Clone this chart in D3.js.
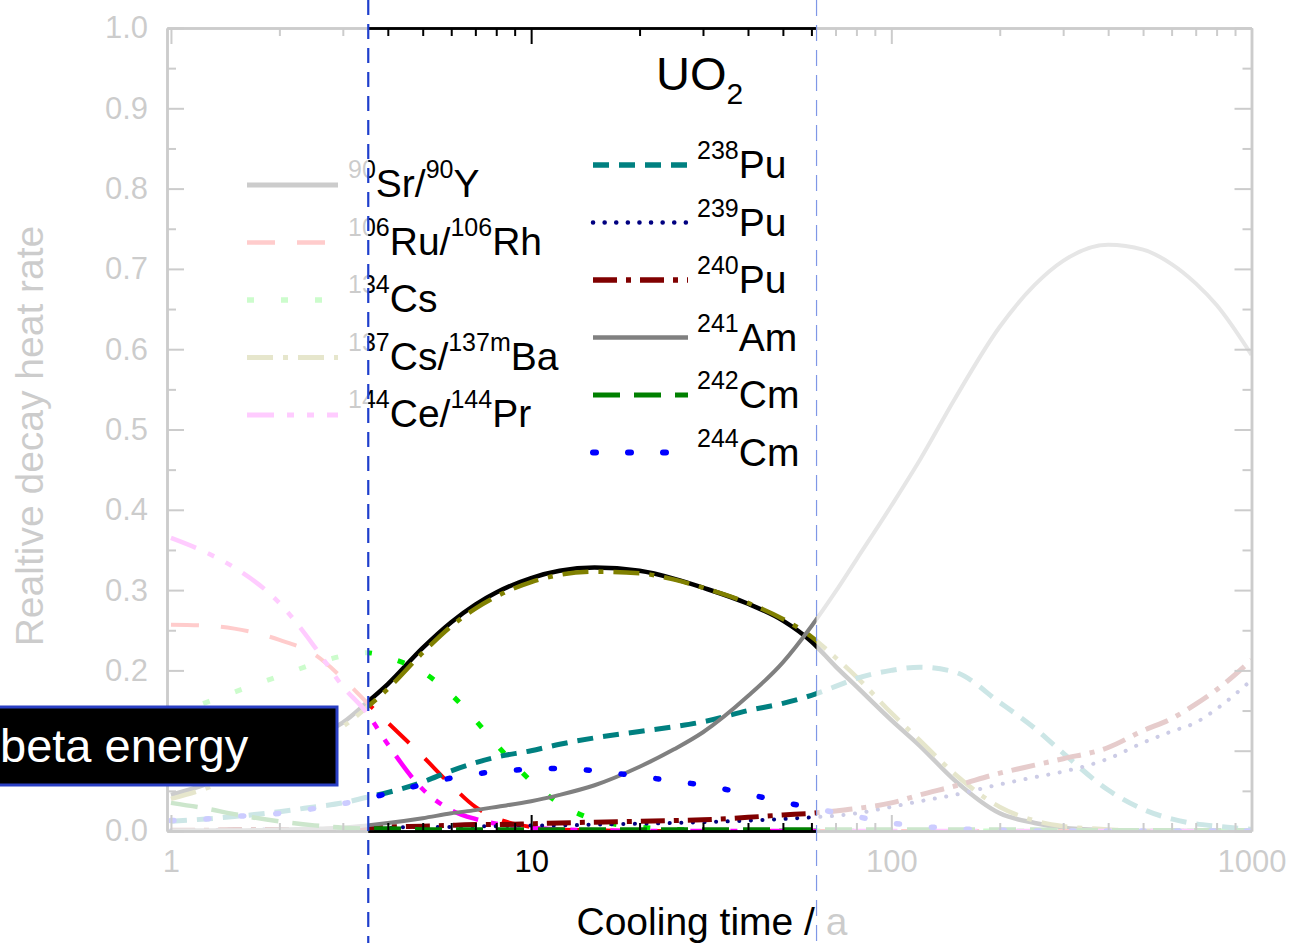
<!DOCTYPE html>
<html>
<head>
<meta charset="utf-8">
<script src="https://cdn.jsdelivr.net/npm/d3@7"></script>
<style>
  html, body { margin: 0; padding: 0; background: #fff; }
  svg { display: block; font-family: "Liberation Sans", Arial, Helvetica, sans-serif; }
</style>
</head>
<body>
<svg id="chart" width="1306" height="951"></svg>
<script>
// Cooling time grid (years) shared by all nuclide series
const coolingTime = [1, 1.25, 1.5, 2, 2.5, 3, 3.5, 4, 5, 6, 7, 8, 10, 12, 15, 20, 25, 30, 40, 50, 60, 70, 80, 100, 120, 150, 200, 250, 300, 400, 500, 600, 700, 800, 1000];

// Relative decay heat contribution of each nuclide (fraction of total)
const sr90   = [0.045, 0.058, 0.072, 0.100, 0.118, 0.135, 0.160, 0.183, 0.228, 0.260, 0.282, 0.297, 0.315, 0.324, 0.328, 0.324, 0.314, 0.303, 0.283, 0.262, 0.236, 0.205, 0.180, 0.138, 0.106, 0.063, 0.022, 0.010, 0.004, 0.001, 0, 0, 0, 0, 0];
const ru106  = [0.257, 0.256, 0.252, 0.238, 0.220, 0.190, 0.160, 0.135, 0.093, 0.057, 0.030, 0.016, 0.005, 0.002, 0.001, 0, 0, 0, 0, 0, 0, 0, 0, 0, 0, 0, 0, 0, 0, 0, 0, 0, 0, 0, 0];
const cs134  = [0.145, 0.160, 0.173, 0.193, 0.208, 0.218, 0.222, 0.216, 0.198, 0.170, 0.138, 0.108, 0.062, 0.034, 0.014, 0.005, 0.002, 0.001, 0, 0, 0, 0, 0, 0, 0, 0, 0, 0, 0, 0, 0, 0, 0, 0, 0];
const cs137  = [0.040, 0.053, 0.067, 0.095, 0.113, 0.130, 0.154, 0.177, 0.222, 0.255, 0.277, 0.292, 0.310, 0.319, 0.323, 0.321, 0.313, 0.303, 0.284, 0.264, 0.242, 0.216, 0.192, 0.147, 0.113, 0.071, 0.030, 0.013, 0.006, 0.002, 0, 0, 0, 0, 0];
const ce144  = [0.365, 0.347, 0.328, 0.284, 0.230, 0.180, 0.147, 0.108, 0.052, 0.026, 0.015, 0.009, 0.004, 0.002, 0.001, 0, 0, 0, 0, 0, 0, 0, 0, 0, 0, 0, 0, 0, 0, 0, 0, 0, 0, 0, 0];
const pu238  = [0.012, 0.015, 0.018, 0.024, 0.030, 0.035, 0.042, 0.048, 0.061, 0.075, 0.085, 0.092, 0.100, 0.108, 0.116, 0.124, 0.130, 0.136, 0.150, 0.159, 0.169, 0.180, 0.190, 0.200, 0.204, 0.198, 0.160, 0.128, 0.097, 0.051, 0.027, 0.015, 0.009, 0.006, 0.002];
const pu239  = [0.001, 0.001, 0.002, 0.002, 0.002, 0.003, 0.003, 0.004, 0.005, 0.005, 0.006, 0.006, 0.007, 0.007, 0.008, 0.009, 0.010, 0.011, 0.013, 0.015, 0.017, 0.019, 0.022, 0.030, 0.037, 0.045, 0.058, 0.067, 0.074, 0.090, 0.110, 0.124, 0.135, 0.152, 0.188];
const pu240  = [0.001, 0.001, 0.002, 0.002, 0.002, 0.003, 0.004, 0.005, 0.006, 0.007, 0.008, 0.008, 0.009, 0.010, 0.011, 0.012, 0.013, 0.014, 0.017, 0.020, 0.022, 0.025, 0.028, 0.035, 0.045, 0.056, 0.072, 0.082, 0.090, 0.104, 0.125, 0.140, 0.158, 0.176, 0.213];
const am241  = [0.001, 0.001, 0.001, 0.002, 0.003, 0.004, 0.007, 0.010, 0.016, 0.022, 0.026, 0.030, 0.037, 0.045, 0.057, 0.080, 0.102, 0.123, 0.168, 0.210, 0.255, 0.298, 0.338, 0.405, 0.462, 0.538, 0.628, 0.680, 0.710, 0.730, 0.724, 0.706, 0.682, 0.655, 0.593];
const cm242  = [0.035, 0.028, 0.021, 0.012, 0.007, 0.004, 0.003, 0.003, 0.002, 0.002, 0.002, 0.002, 0.002, 0.002, 0.002, 0.002, 0.002, 0.002, 0.002, 0.002, 0.002, 0.002, 0.002, 0.002, 0.002, 0.002, 0.002, 0.002, 0.001, 0.001, 0.001, 0.001, 0.001, 0.001, 0.001];
const cm244  = [0.013, 0.015, 0.018, 0.022, 0.028, 0.034, 0.040, 0.047, 0.058, 0.066, 0.071, 0.074, 0.077, 0.078, 0.075, 0.068, 0.062, 0.057, 0.046, 0.036, 0.029, 0.023, 0.018, 0.010, 0.006, 0.003, 0.001, 0, 0, 0, 0, 0, 0, 0, 0];

// Axis ticks
const xTickLabels = [1, 10, 100, 1000];
const yTickLabels = [0, 0.1, 0.2, 0.3, 0.4, 0.5, 0.6, 0.7, 0.8, 0.9, 1.0];

// Cooling-time window that stays in focus (years)
const focusWindow = [3.53, 62];

// ---------------------------------------------------------------------------
const W = 1306, H = 951;
const plot = { left: 167, right: 1251.5, top: 28, bottom: 831 };
const FONT = '"Liberation Sans", Arial, Helvetica, sans-serif';

const x = d3.scaleLog().domain([0.975, 1000]).range([plot.left, plot.right]);
const y = d3.scaleLinear().domain([0, 1]).range([plot.bottom, plot.top]);

const svg = d3.select('#chart');
const chart = svg.append('g');

// Series table: values plus drawing style and legend label parts ([text, isSuperscript])
const series = [
  { values: sr90,  color: '#000000', width: 4.5, dash: null,                 cap: 'butt',  col: 0, label: [['90', 1], ['Sr/', 0], ['90', 1], ['Y', 0]] },
  { values: ru106, color: '#ff0000', width: 4,   dash: '28,22',              cap: 'butt',  col: 0, label: [['106', 1], ['Ru/', 0], ['106', 1], ['Rh', 0]] },
  { values: cs134, color: '#00ee00', width: 5,   dash: '7,27',               cap: 'butt',  col: 0, label: [['134', 1], ['Cs', 0]] },
  { values: cs137, color: '#808000', width: 4.5, dash: '26,10,5,10',         cap: 'butt',  col: 0, label: [['137', 1], ['Cs/', 0], ['137m', 1], ['Ba', 0]] },
  { values: ce144, color: '#ff00ff', width: 4.5, dash: '27,13,7,13,7,13',    cap: 'butt',  col: 0, label: [['144', 1], ['Ce/', 0], ['144', 1], ['Pr', 0]] },
  { values: pu238, color: '#008080', width: 5,   dash: '16,10',              cap: 'butt',  col: 1, label: [['238', 1], ['Pu', 0]] },
  { values: pu239, color: '#000080', width: 4,   dash: '0.1,11.5',           cap: 'round', col: 1, label: [['239', 1], ['Pu', 0]] },
  { values: pu240, color: '#800000', width: 5,   dash: '24,9,5,9',           cap: 'butt',  col: 1, label: [['240', 1], ['Pu', 0]] },
  { values: am241, color: '#808080', width: 4,   dash: null,                 cap: 'butt',  col: 1, label: [['241', 1], ['Am', 0]] },
  { values: cm242, color: '#008000', width: 4.5, dash: '27,14',              cap: 'butt',  col: 1, label: [['242', 1], ['Cm', 0]] },
  { values: cm244, color: '#0000ff', width: 5.5, dash: '3,32',               cap: 'round', col: 1, label: [['244', 1], ['Cm', 0]] }
];

// Clip curves to the plotting frame
svg.append('defs').append('clipPath').attr('id', 'plot-clip')
  .append('rect')
  .attr('x', plot.left).attr('y', plot.top)
  .attr('width', plot.right - plot.left).attr('height', plot.bottom - plot.top);

const line = d3.line()
  .x(d => x(d.t))
  .y(d => y(d.v))
  .curve(d3.curveMonotoneX);

const curves = chart.append('g').attr('clip-path', 'url(#plot-clip)');
series.forEach(s => {
  const pts = coolingTime.map((t, i) => ({ t, v: s.values[i] }));
  curves.append('path')
    .datum(pts)
    .attr('d', line)
    .attr('fill', 'none')
    .attr('stroke', s.color)
    .attr('stroke-width', s.width)
    .attr('stroke-linecap', s.cap)
    .attr('stroke-linejoin', 'round')
    .attr('stroke-dasharray', s.dash);
});

// Axes with inward ticks on all four sides
const xMinor = [];
[1, 10, 100].forEach(d => { for (let k = 2; k <= 9; k++) xMinor.push(d * k); });
const yMinor = d3.range(0.05, 1, 0.1);

function styleAxis(g) {
  g.select('.domain').attr('stroke', '#000').attr('stroke-width', 2.5);
  g.selectAll('.tick line').attr('stroke', '#000').attr('stroke-width', 2);
  g.selectAll('.tick text').attr('fill', '#000').attr('font-size', 31).attr('font-family', FONT);
}

chart.append('g').attr('transform', `translate(0,${plot.bottom})`)
  .call(d3.axisBottom(x).tickValues(xTickLabels).tickFormat(d3.format('d')).tickSize(-16).tickSizeOuter(0).tickPadding(19))
  .call(styleAxis);
chart.append('g').attr('transform', `translate(0,${plot.bottom})`)
  .call(d3.axisBottom(x).tickValues(xMinor).tickFormat('').tickSize(-8).tickSizeOuter(0))
  .call(styleAxis);
chart.append('g').attr('transform', `translate(0,${plot.top})`)
  .call(d3.axisTop(x).tickValues(xTickLabels).tickFormat('').tickSize(-16).tickSizeOuter(0))
  .call(styleAxis);
chart.append('g').attr('transform', `translate(0,${plot.top})`)
  .call(d3.axisTop(x).tickValues(xMinor).tickFormat('').tickSize(-8).tickSizeOuter(0))
  .call(styleAxis);
chart.append('g').attr('transform', `translate(${plot.left},0)`)
  .call(d3.axisLeft(y).tickValues(yTickLabels).tickFormat(d3.format('.1f')).tickSize(-17).tickSizeOuter(0).tickPadding(19))
  .call(styleAxis);
chart.append('g').attr('transform', `translate(${plot.left},0)`)
  .call(d3.axisLeft(y).tickValues(yMinor).tickFormat('').tickSize(-9).tickSizeOuter(0))
  .call(styleAxis);
chart.append('g').attr('transform', `translate(${plot.right},0)`)
  .call(d3.axisRight(y).tickValues(yTickLabels).tickFormat('').tickSize(-17).tickSizeOuter(0))
  .call(styleAxis);
chart.append('g').attr('transform', `translate(${plot.right},0)`)
  .call(d3.axisRight(y).tickValues(yMinor).tickFormat('').tickSize(-9).tickSizeOuter(0))
  .call(styleAxis);

// Axis titles
chart.append('text')
  .attr('x', 712).attr('y', 935)
  .attr('text-anchor', 'middle')
  .attr('font-size', 39).attr('fill', '#000')
  .text('Cooling time / a');

chart.append('text')
  .attr('transform', 'translate(43,436) rotate(-90)')
  .attr('text-anchor', 'middle')
  .attr('font-size', 39).attr('fill', '#000')
  .text('Realtive decay heat rate');

// Fuel label
const fuel = chart.append('text').attr('x', 656).attr('y', 90).attr('font-size', 47).attr('fill', '#000');
fuel.append('tspan').text('UO');
fuel.append('tspan').attr('font-size', 30).attr('dy', 14).text('2');

// Legend in two columns
const legendCols = [
  { x1: 247, x2: 338, tx: 348, y0: 197, lineOff: 12 },
  { x1: 593, x2: 688, tx: 697, y0: 178, lineOff: 13 }
];
const rowStep = 57.5;
const legend = chart.append('g');
[0, 1].forEach(c => {
  const col = legendCols[c];
  series.filter(s => s.col === c).forEach((s, i) => {
    const yb = col.y0 + i * rowStep;
    legend.append('line')
      .attr('x1', col.x1).attr('x2', col.x2)
      .attr('y1', yb - col.lineOff).attr('y2', yb - col.lineOff)
      .attr('stroke', s.color).attr('stroke-width', s.width + 0.5)
      .attr('stroke-linecap', s.cap)
      .attr('stroke-dasharray', s.dash);
    const t = legend.append('text').attr('x', col.tx).attr('y', yb).attr('font-size', 39).attr('fill', '#000');
    let raised = false;
    s.label.forEach(([str, sup]) => {
      const ts = t.append('tspan').text(str);
      if (sup) {
        ts.attr('font-size', 25);
        if (!raised) { ts.attr('dy', -19); raised = true; }
      } else if (raised) {
        ts.attr('dy', 19); raised = false;
      }
    });
  });
});

// Fade everything outside the focus window
const fx0 = x(focusWindow[0]), fx1 = x(focusWindow[1]);
const veil = svg.append('g').attr('fill', '#fff').attr('fill-opacity', 0.8);
veil.append('rect').attr('x', 0).attr('y', 0).attr('width', fx0).attr('height', H);
veil.append('rect').attr('x', fx1).attr('y', 0).attr('width', W - fx1).attr('height', H);

// Focus window boundaries
svg.append('line')
  .attr('x1', fx0).attr('x2', fx0).attr('y1', 0).attr('y2', 943)
  .attr('stroke', '#1f3fcc').attr('stroke-width', 2.2).attr('stroke-dasharray', '15,9');
svg.append('line')
  .attr('x1', fx1).attr('x2', fx1).attr('y1', 0).attr('y2', 943)
  .attr('stroke', '#7f97e6').attr('stroke-width', 1.2).attr('stroke-dasharray', '16,9');

// Callout box
const callout = svg.append('g');
callout.append('rect')
  .attr('x', -4).attr('y', 707).attr('width', 341).attr('height', 78)
  .attr('fill', '#000').attr('stroke', '#2a3fc4').attr('stroke-width', 3);
callout.append('text')
  .attr('x', 0).attr('y', 762)
  .attr('font-size', 47).attr('fill', '#fff')
  .text('beta energy');
</script>
</body>
</html>
